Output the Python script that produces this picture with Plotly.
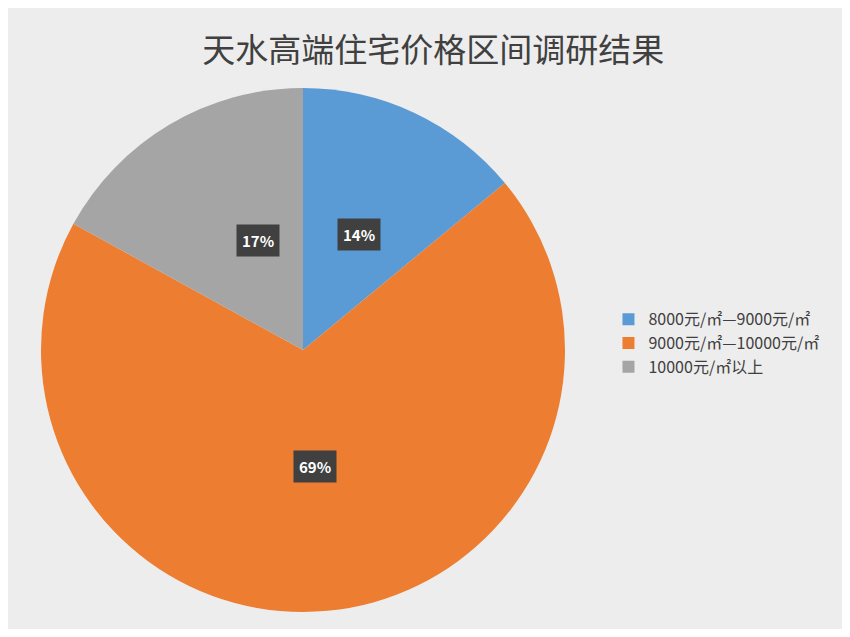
import math
import plotly.graph_objs as go

labels = ['8000元/㎡—9000元/㎡', '9000元/㎡—10000元/㎡', '10000元/㎡以上']
values = [14, 69, 17]
colours = ['#5b9bd5', '#ed7d31', '#a5a5a5']

W, H = 834, 621  # visible plot area inside the page margin
cx, cy, R = 295, 342, 262  # pie centre / radius in px

fig = go.Figure()
fig.add_trace(go.Pie(labels=labels, values=values, sort=False, direction='clockwise',
                     rotation=0, marker=dict(colors=colours, line=dict(width=0)),
                     textinfo='none', hoverinfo='label+percent',
                     domain=dict(x=[(cx - R) / W, (cx + R) / W],
                                 y=[1 - (cy + R) / H, 1 - (cy - R) / H])))

# dark label boxes, placed at the middle of each slice
total = float(sum(values))
start = 0.0
for v in values:
    mid = (start + v / 2) / total * 2 * math.pi
    start += v
    x = (cx + 0.5 * R * math.sin(mid)) / W
    y = 1 - (cy - 0.5 * R * math.cos(mid) + 3) / H
    fig.add_annotation(x=x, y=y, xref='paper', yref='paper', showarrow=False,
                       text='<b>{}%</b>'.format(v), bgcolor='#404040', borderpad=5,
                       font=dict(color='white', size=15, family='Noto Sans CJK SC'))

fig.update_layout(width=W, height=H, margin=dict(l=0, r=0, t=0, b=0),
                  paper_bgcolor='#ededed', plot_bgcolor='#ededed',
                  title=dict(text='天水高端住宅价格区间调研结果', x=0.51, y=0.95, xanchor='center',
                             font=dict(size=33, color='#404040', family='Noto Sans CJK SC')),
                  legend=dict(x=0.72, y=0.46, xanchor='left', yanchor='middle',
                              font=dict(size=16, color='#404040', family='Noto Sans CJK SC'),
                              bgcolor='rgba(0,0,0,0)', itemwidth=30, tracegroupgap=4))

fig.write_html("out.html")
